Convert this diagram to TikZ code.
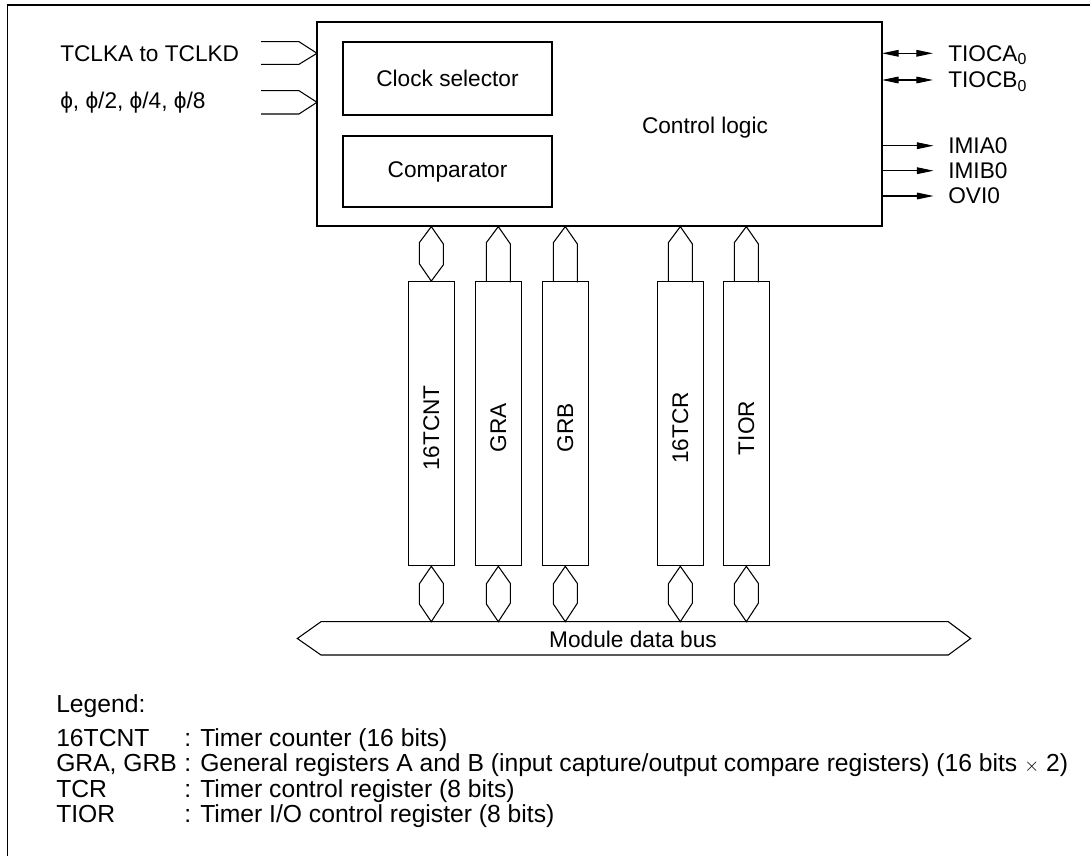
\documentclass[tikz,border=0pt]{standalone}
\usepackage{fontspec}
\setmainfont{Liberation Sans}
\usetikzlibrary{arrows.meta}
\begin{document}
\begin{tikzpicture}[x=0.75pt,y=-0.75pt,
  every node/.style={font=\fontsize{17pt}{20pt}\selectfont, inner sep=0pt},
  box/.style={draw, line width=0.9pt},
  reg/.style={draw, line width=0.9pt, minimum width=34.5pt, minimum height=213pt},
  wire/.style={line width=0.8pt},
  arr/.style={line width=0.8pt, -{Triangle[length=12.5pt,width=5pt]}},
  darr/.style={line width=0.8pt, {Triangle[length=12.5pt,width=5pt]}-{Triangle[length=12.5pt,width=5pt]}},
  lbl/.style={anchor=west},
  leglbl/.style={anchor=base west, font=\fontsize{18.5pt}{21pt}\selectfont}
]
\useasboundingbox (0,0) rectangle (1090,856);
\begin{scope}
\clip (0,0) rectangle (1090,856);
\draw[line width=0.9pt] (7.5,5) rectangle (1100,870);
\end{scope}

% main block
\node[box, minimum width=423.75pt, minimum height=153pt] (ctrl) at (599.5,124) {};
\node[box, minimum width=156.75pt, minimum height=54.75pt] (clk) at (447.5,78.5) {Clock selector};
\node[box, minimum width=156.75pt, minimum height=53.25pt] (cmp) at (447.5,171.5) {Comparator};
\node (cl) at (705,128) {Control logic};

% inputs
\node[lbl] (tclk) at (60,53.3) {TCLKA to TCLKD};
\node[lbl] (phi) at (60,102.3) {ϕ, ϕ/2, ϕ/4, ϕ/8};
\coordinate (in1) at (317,53.3);
\coordinate (in2) at (317,102.3);
\draw[wire] (in1) ++(-56,-11.6) -- ++(38,0) -- (in1) -- ++(-18,11) -- ++(-38,0);
\draw[wire] (in2) ++(-56,-11.6) -- ++(38,0) -- (in2) -- ++(-18,11.7) -- ++(-38,0);

% outputs
\node[lbl] (tioca) at (948,55) {TIOCA\textsubscript{0}};
\node[lbl] (tiocb) at (948,81.5) {TIOCB\textsubscript{0}};
\node[lbl] (imia) at (948,145.7) {IMIA0};
\node[lbl] (imib) at (948,170.7) {IMIB0};
\node[lbl] (ovi) at (948,196) {OVI0};
\draw[darr] (882,53.3) -- ++(51,0);
\draw[darr] (882,80) -- ++(51,0);
\draw[arr] (ctrl.east |- imia) -- ++(51,0);
\draw[arr] (ctrl.east |- imib) -- ++(51,0);
\draw[arr] (ctrl.east |- ovi) -- ++(51,0);

% registers
\foreach \n/\x/\t in {r1/431.3/16TCNT, r2/498.3/GRA, r3/565.3/GRB, r4/680.3/16TCR, r5/746.3/TIOR}{
  \node[reg] (\n) at (\x,423.7) {};
  \node[rotate=90] at (\x,428) {\t};
}

% top connectors
\draw[wire] (r1.north) -- ++(-12,-17.4) -- ++(0,-21) -- (r1.north |- ctrl.south) -- ++(12,17.3) -- ++(0,21) -- cycle;
\foreach \n in {r2,r3,r4,r5}{
  \draw[wire] (\n.north) ++(-12,0) -- ++(0,-38.4) -- (\n.north |- ctrl.south) -- ++(12,17.3) -- ++(0,38.4);
}

% bus
\coordinate (bl) at (297.3,638.5);
\coordinate (br) at (970.7,638.5);
\draw[wire] (bl) -- (321,621.7) -- (948.3,621.7) -- (br) -- (948.3,655) -- (321,655) -- cycle;
\node (bus) at (633,639) {Module data bus};

% bottom connectors
\foreach \n in {r1,r2,r3,r4,r5}{
  \draw[wire] (\n.south) -- ++(-12,17.6) -- ++(0,20) -- (\n.south |- 0,621.7) -- ++(12,-18.4) -- ++(0,-20) -- cycle;
}

% legend
\node[leglbl] (leg) at (56,712) {Legend:};
\node[leglbl] (l1) at (56,746) {16TCNT};
\node[leglbl] (l2) at (56,771) {GRA, GRB};
\node[leglbl] (l3) at (56,797) {TCR};
\node[leglbl] (l4) at (56,822) {TIOR};
\node[leglbl] (d1) at (184,746) {: Timer counter (16 bits)};
\node[leglbl] (d2) at (184,771) {: General registers A and B (input capture/output compare registers) (16 bits {\fontsize{14pt}{15pt}\selectfont$\times$} 2)};
\node[leglbl] (d3) at (184,797) {: Timer control register (8 bits)};
\node[leglbl] (d4) at (184,822) {: Timer I/O control register (8 bits)};
\end{tikzpicture}
\end{document}
